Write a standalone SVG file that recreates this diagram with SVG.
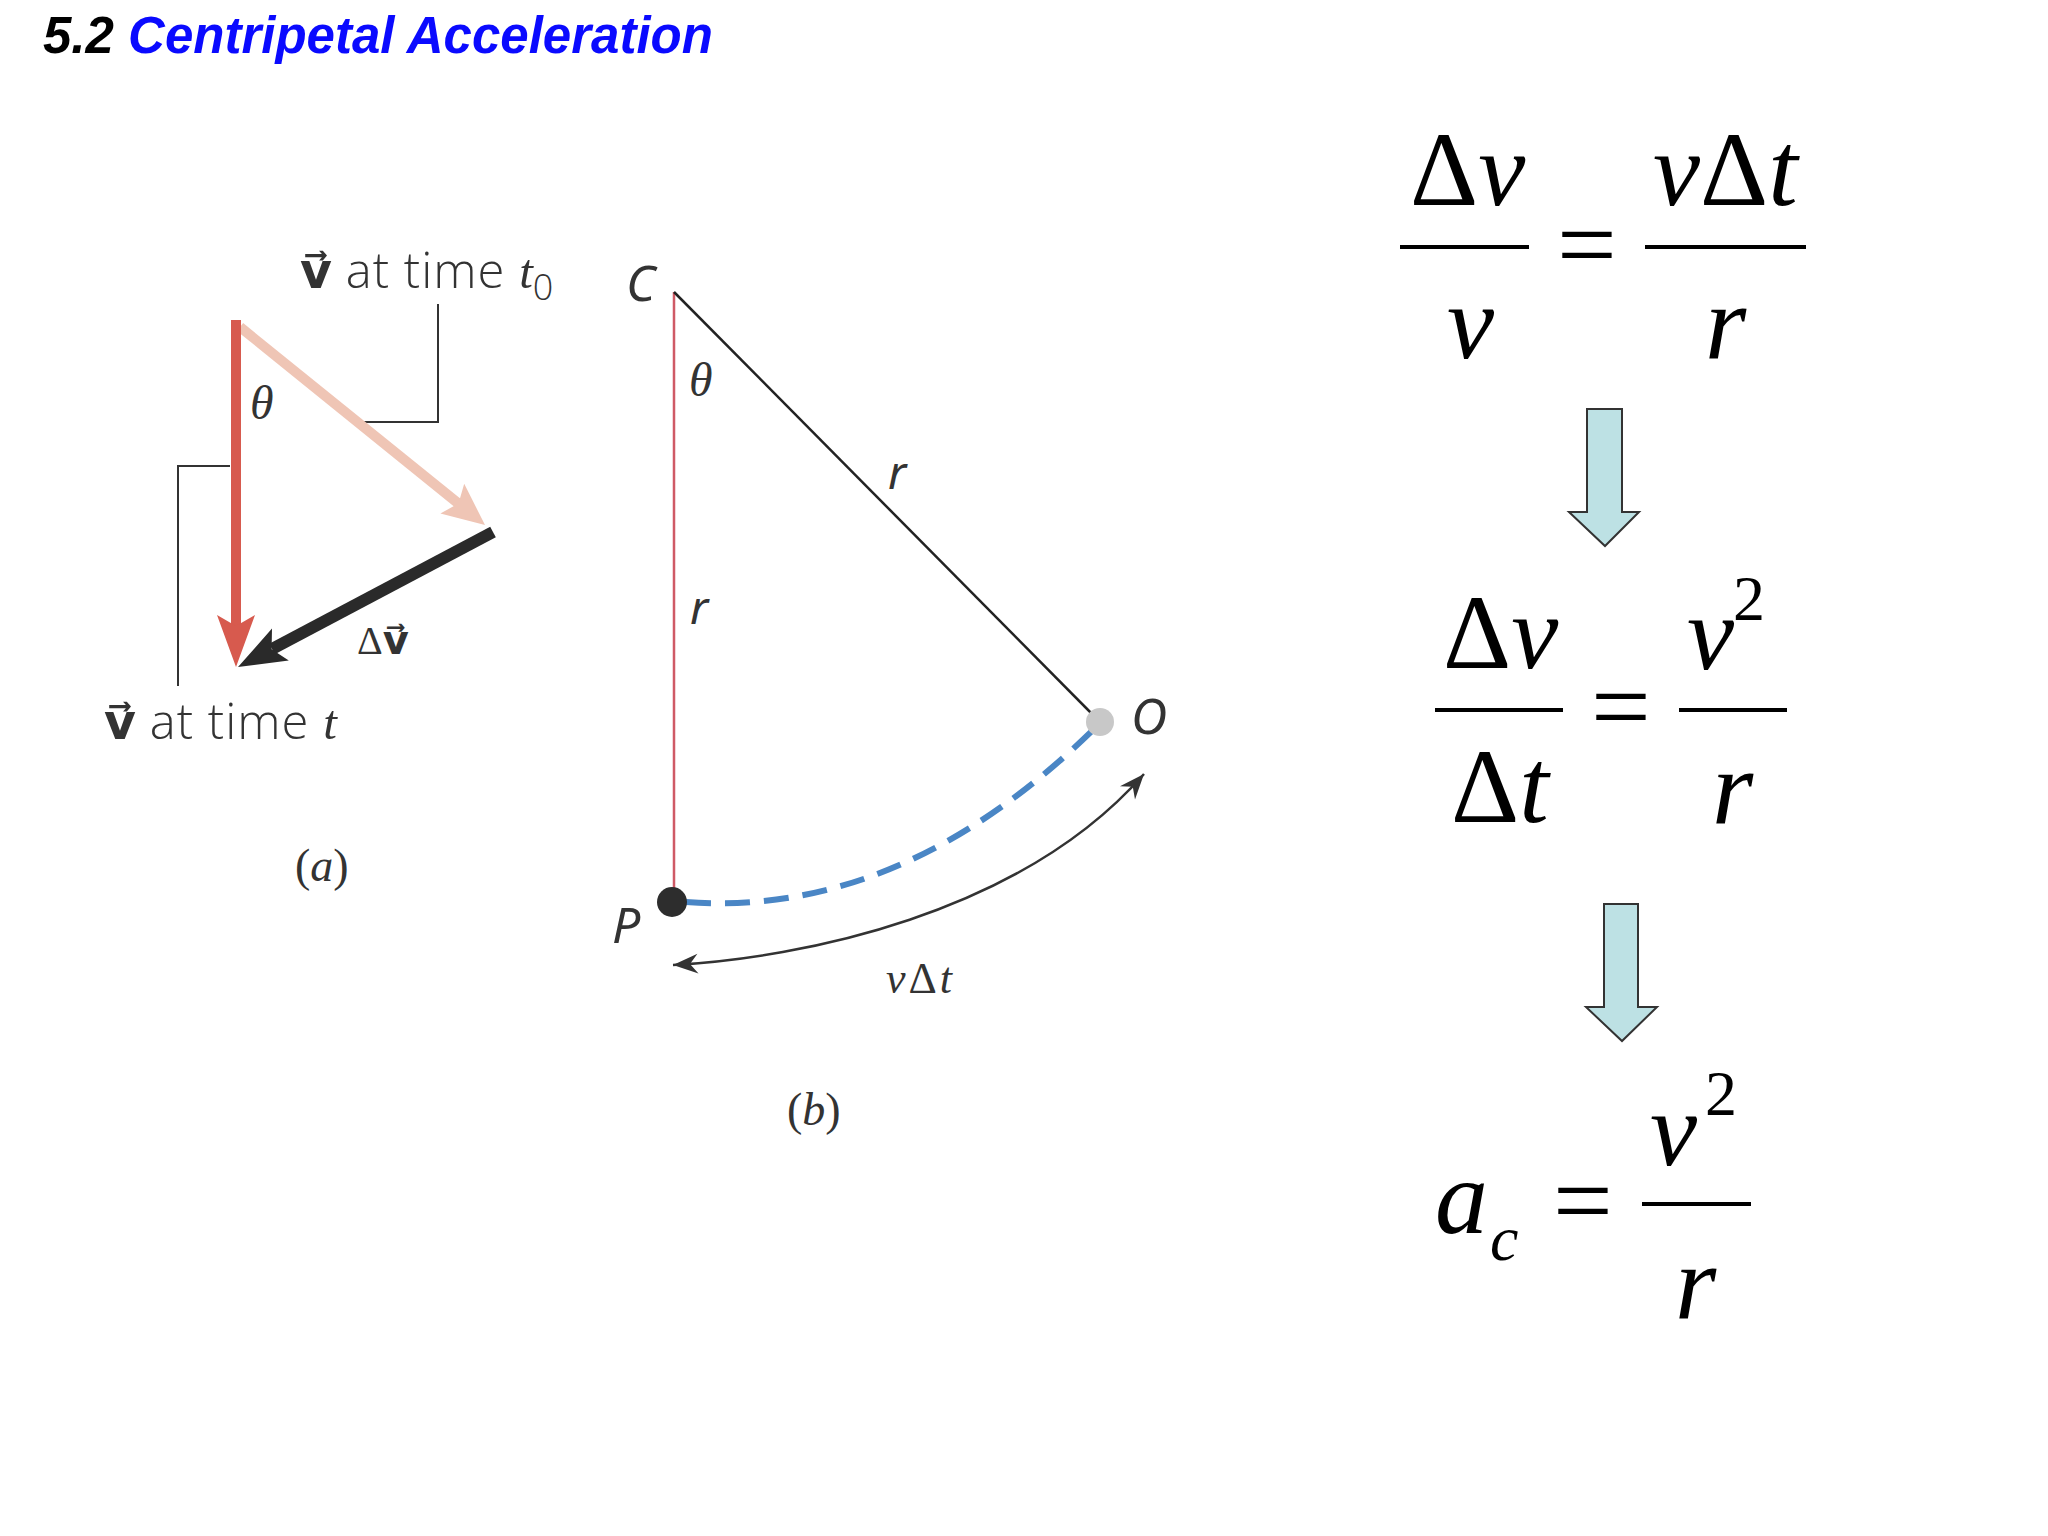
<svg xmlns="http://www.w3.org/2000/svg" width="2048" height="1536" viewBox="0 0 2048 1536">
<style>
.title{font-family:"Liberation Sans",Arial,sans-serif;font-weight:bold;font-style:italic;font-size:51px}
.sans{font-family:"Open Sans","Noto Sans",sans-serif;font-weight:300;fill:#333}
.lab{font-family:"Noto Sans","DejaVu Sans",sans-serif;fill:#333}
.ser{font-family:"Liberation Serif","Times New Roman",serif;fill:#333}
.vec{font-family:"DejaVu Sans",sans-serif;font-weight:bold;fill:#333}
.it{font-style:italic}
.m{font-family:"Liberation Serif","Times New Roman",serif;font-size:106px;fill:#000}
.sup{font-family:"Liberation Serif","Times New Roman",serif;font-size:64px;fill:#000}
.bar{stroke:#000;stroke-width:4}
.lead{fill:none;stroke:#333;stroke-width:2}
.bigarrow{fill:#bde1e4;stroke:#333;stroke-width:2}
</style>
<defs>
<marker id="barb" viewBox="-26 -11 28 22" refX="0" refY="0" markerWidth="28" markerHeight="22" markerUnits="userSpaceOnUse" orient="auto-start-reverse">
<path d="M0,0 L-25,-10 L-17,0 L-25,10 Z" fill="#333"/>
</marker>
</defs>
<rect width="2048" height="1536" fill="#fff"/>
<g id="title"><text class="title" x="43" y="53"><tspan fill="#000">5.2 </tspan><tspan fill="#0a0aff">Centripetal Acceleration</tspan></text></g>

<g id="fig-a">
<g id="leaders">
<polyline class="lead" points="438,304 438,422 362,422"/>
<polyline class="lead" points="230,466 178,466 178,686"/>
</g>
<g id="v-t0-arrow">
<line x1="240" y1="327" x2="459" y2="504" stroke="#efc5b5" stroke-width="10"/>
<path d="M485,525 L440.4,513.4 L458.5,503.6 L464.2,483.8 Z" fill="#efc5b5"/>
</g>
<g id="v-t-arrow">
<line x1="236" y1="320" x2="236" y2="626" stroke="#d75a4e" stroke-width="10"/>
<path d="M236,667 L217,615 L236,626 L255,615 Z" fill="#d75a4e"/>
</g>
<g id="dv-arrow">
<line x1="493" y1="532" x2="272" y2="649" stroke="#2a2a2a" stroke-width="12"/>
<path d="M238,667 L272,628.6 L271.6,649.2 L288.8,660.4 Z" fill="#2a2a2a"/>
</g>
<text class="ser it" x="250" y="419" font-size="48">θ</text>
<text x="357" y="654" font-size="40"><tspan class="ser">Δ</tspan><tspan class="vec">v⃗</tspan></text>
<text x="300" y="288" font-size="49"><tspan class="vec">v⃗</tspan><tspan class="sans" letter-spacing="1"> at time </tspan><tspan class="ser it">t</tspan><tspan class="sans" font-size="36" dy="12">0</tspan></text>
<text x="104" y="739" font-size="49"><tspan class="vec">v⃗</tspan><tspan class="sans" letter-spacing="1"> at time </tspan><tspan class="ser it">t</tspan></text>
<text class="ser" x="295" y="881" font-size="46" fill="#444">(<tspan class="it">a</tspan>)</text>
</g>

<g id="fig-b">
<g id="connectors">
<line x1="674" y1="292" x2="674" y2="902" stroke="#cf5a66" stroke-width="2.5"/>
<line x1="674" y1="292" x2="1100" y2="722" stroke="#222" stroke-width="2.5"/>
<path d="M686,902 Q900,918 1093,730" fill="none" stroke="#4a86c5" stroke-width="6" stroke-dasharray="25,14"/>
<path d="M673,965 C800,958 1020,915 1144,774" fill="none" stroke="#333" stroke-width="2.5" marker-start="url(#barb)" marker-end="url(#barb)"/>
</g>
<g id="node-O"><circle cx="1100" cy="722" r="14" fill="#c8c8c8"/><text class="lab it" x="1131" y="734" font-size="50">O</text></g>
<g id="node-P"><circle cx="672" cy="902" r="15" fill="#2d2d2d"/><text class="lab it" x="612" y="943" font-size="50">P</text></g>
<g id="node-C"><text class="lab it" x="626" y="301" font-size="50">C</text></g>
<text class="ser it" x="689" y="396" font-size="48">θ</text>
<text class="lab it" x="888" y="489" font-size="46">r</text>
<text class="lab it" x="690" y="624" font-size="46">r</text>
<text class="ser" x="886" y="993" font-size="44" letter-spacing="3"><tspan class="it">v</tspan>Δ<tspan class="it">t</tspan></text>
<text class="ser" x="787" y="1125" font-size="46" fill="#444">(<tspan class="it">b</tspan>)</text>
</g>

<g id="eq1">
<text class="m" x="1410" y="205">Δ<tspan class="it">v</tspan></text>
<line class="bar" x1="1400" y1="247" x2="1529" y2="247"/>
<text class="m" x="1557" y="280">=</text>
<text class="m" x="1653" y="205"><tspan class="it">v</tspan>Δ<tspan class="it">t</tspan></text>
<line class="bar" x1="1645" y1="247" x2="1806" y2="247"/>
<text class="m it" x="1447" y="358">v</text>
<text class="m it" x="1705" y="358">r</text>
</g>
<g id="arrow1"><path class="bigarrow" d="M1587,409 H1622 V512 H1639 L1605,546 L1569,512 H1587 Z"/></g>
<g id="eq2">
<text class="m" x="1443" y="668">Δ<tspan class="it">v</tspan></text>
<line class="bar" x1="1435" y1="710" x2="1563" y2="710"/>
<text class="m" x="1591" y="742">=</text>
<text class="m it" x="1687" y="669">v</text>
<text class="sup" x="1733" y="620">2</text>
<line class="bar" x1="1679" y1="710" x2="1787" y2="710"/>
<text class="m" x="1451" y="822">Δ<tspan class="it">t</tspan></text>
<text class="m it" x="1712" y="823">r</text>
</g>
<g id="arrow2"><path class="bigarrow" d="M1604,904 H1638 V1007 H1657 L1622,1041 L1586,1007 H1604 Z"/></g>
<g id="eq3">
<text class="m it" x="1435" y="1233" font-size="108">a</text>
<text class="sup it" x="1490" y="1260">c</text>
<text class="m" x="1553" y="1236">=</text>
<text class="m it" x="1650" y="1165">v</text>
<text class="sup" x="1705" y="1115">2</text>
<line class="bar" x1="1642" y1="1204" x2="1751" y2="1204"/>
<text class="m it" x="1675" y="1318">r</text>
</g>
</svg>
